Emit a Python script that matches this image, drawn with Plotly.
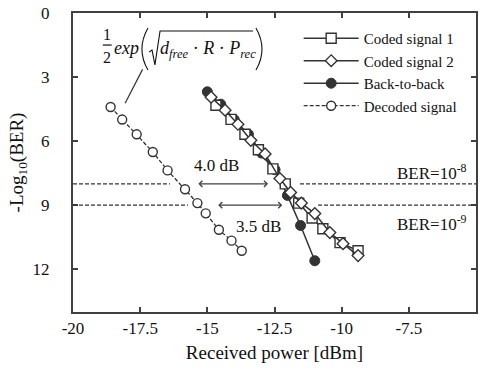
import plotly.graph_objects as go

# ---------------- data ----------------
dec_x = [-18.6, -18.17, -17.63, -17.03, -16.48, -15.83, -15.37, -15.06, -14.57, -14.1, -13.72]
dec_y = [4.4, 4.99, 5.68, 6.51, 7.37, 8.25, 8.9, 9.38, 10.15, 10.66, 11.13]

b2b_x = [-15.0, -14.5, -14.0, -13.47, -12.98, -12.48, -12.02, -11.53, -11.0]
b2b_y = [3.69, 4.27, 4.99, 5.68, 6.56, 7.34, 8.54, 9.95, 11.6]

c1_x = [-14.68, -14.12, -13.6, -13.1, -12.56, -12.1, -11.6, -11.1, -10.7, -10.06, -9.39]
c1_y = [4.32, 4.98, 5.68, 6.4, 7.3, 8.0, 8.9, 9.6, 10.1, 10.75, 11.13]

c2_x = [-14.86, -14.34, -13.86, -13.38, -12.85, -12.3, -11.9, -11.5, -11.0, -10.44, -9.95, -9.39]
c2_y = [3.94, 4.55, 5.21, 5.96, 6.6, 7.75, 8.4, 8.9, 9.39, 10.28, 10.8, 11.36]

x_ticks = [-20, -17.5, -15, -12.5, -10, -7.5, -5]
x_tick_text = ["-20", "-17.5", "-15", "-12.5", "-10", "-7.5", "-5"]
y_ticks = [0, 3, 6, 9, 12]

ber_levels = [8, 9]
ber_labels = ["BER=10<sup>-8</sup>", "BER=10<sup>-9</sup>"]
ber_gap_left = [-16.39, -15.72]
ber_gap_right = [-11.55, -10.88]

arrow_from = [-15.39, -14.65]
arrow_to = [-12.74, -12.21]
arrow_labels = ["4.0 dB", "3.5 dB"]

# ---------------- styling ----------------
INK = "#333333"
AX = "#404040"
FONT = "Liberation Serif"

fig = go.Figure()

fig.add_trace(go.Scatter(
    x=dec_x, y=dec_y, mode="lines+markers", name="Decoded signal", legendrank=4,
    line=dict(color=INK, width=1.3, dash="4px,2px"),
    marker=dict(symbol="circle", size=9, color="white", line=dict(color=INK, width=1.4)),
))
fig.add_trace(go.Scatter(
    x=b2b_x, y=b2b_y, mode="lines+markers", name="Back-to-back", legendrank=3,
    line=dict(color=INK, width=1.5),
    marker=dict(symbol="circle", size=10, color=INK, line=dict(color=INK, width=1)),
))
fig.add_trace(go.Scatter(
    x=c1_x, y=c1_y, mode="lines+markers", name="Coded signal 1", legendrank=1,
    line=dict(color=INK, width=1.5),
    marker=dict(symbol="square", size=10, color="white", line=dict(color=INK, width=1.4)),
))
fig.add_trace(go.Scatter(
    x=c2_x, y=c2_y, mode="lines+markers", name="Coded signal 2", legendrank=2,
    line=dict(color=INK, width=1.5),
    marker=dict(symbol="diamond", size=9, color="white", line=dict(color=INK, width=1.4)),
))

shapes = []
annotations = []

# BER threshold dashed lines and labels
for lvl, gl, gr in zip(ber_levels, ber_gap_left, ber_gap_right):
    shapes.append(dict(type="line", xref="x", yref="y", x0=-20, x1=gl, y0=lvl, y1=lvl,
                       line=dict(color=INK, width=1.2, dash="4px,2px")))
    shapes.append(dict(type="line", xref="x", yref="y", x0=gr, x1=-5, y0=lvl, y1=lvl,
                       line=dict(color=INK, width=1.2, dash="4px,2px")))
annotations.append(dict(x=-6.64, y=7.45, xref="x", yref="y", text=ber_labels[0], showarrow=False,
                        font=dict(family=FONT, size=17, color="#111")))
annotations.append(dict(x=-6.64, y=9.83, xref="x", yref="y", text=ber_labels[1], showarrow=False,
                        font=dict(family=FONT, size=17, color="#111")))

# double-headed arrows
for lvl, a0, a1 in zip(ber_levels, arrow_from, arrow_to):
    annotations.append(dict(x=a1, y=lvl, ax=a0, ay=lvl, xref="x", yref="y", axref="x", ayref="y",
                            text="", showarrow=True, arrowhead=4, startarrowhead=4,
                            arrowside="end+start", arrowsize=1, arrowwidth=1.2, arrowcolor=AX))
annotations.append(dict(x=-14.65, y=7.12, xref="x", yref="y", text=arrow_labels[0], showarrow=False,
                        font=dict(family=FONT, size=17, color="#111")))
annotations.append(dict(x=-13.1, y=10.0, xref="x", yref="y", text=arrow_labels[1], showarrow=False,
                        font=dict(family=FONT, size=17, color="#111")))

# formula
ff = dict(family=FONT, size=16, color="#111")
annotations += [
    dict(x=-18.73, y=1.0, xref="x", yref="y", text="1", showarrow=False, font=ff),
    dict(x=-18.73, y=2.06, xref="x", yref="y", text="2", showarrow=False, font=ff),
    dict(x=-18.0, y=1.62, xref="x", yref="y", text="<i>exp</i>", showarrow=False,
         font=dict(family=FONT, size=18, color="#111")),
    dict(x=-14.98, y=1.7, xref="x", yref="y",
         text="<i>d<sub>free</sub></i> · <i>R</i> · <i>P<sub>rec</sub></i>", showarrow=False,
         font=dict(family=FONT, size=18, color="#111")),
]
shapes += [
    dict(type="line", xref="x", yref="y", x0=-18.89, x1=-18.56, y0=1.5, y1=1.5,
         line=dict(color="#111", width=1.2)),
    dict(type="path", xref="x", yref="y", path="M -17.21,0.70 Q -17.66,1.69 -17.21,2.67",
         line=dict(color="#111", width=1.1)),
    dict(type="path", xref="x", yref="y", path="M -13.19,0.70 Q -12.74,1.69 -13.19,2.67",
         line=dict(color="#111", width=1.1)),
    dict(type="path", xref="x", yref="y",
         path="M -17.17,1.83 L -17.06,1.73 L -16.95,2.43 L -16.76,0.84 L -13.30,0.84",
         line=dict(color="#111", width=1.1)),
    dict(type="line", xref="x", yref="y", x0=-17.41, y0=2.64, x1=-18.06, y1=4.23,
         line=dict(color=INK, width=1.2)),
]

fig.update_layout(
    width=483, height=376,
    margin=dict(l=73, r=7, t=13, b=64, autoexpand=False),
    paper_bgcolor="white", plot_bgcolor="white",
    font=dict(family=FONT, size=17, color="#111"),
    showlegend=True,
    legend=dict(x=0.56, y=0.97, xanchor="left", yanchor="top", bgcolor="rgba(0,0,0,0)",
                font=dict(family=FONT, size=15, color="#111"), itemwidth=55,
                tracegroupgap=0),
    shapes=shapes, annotations=annotations,
)
fig.update_xaxes(range=[-20, -5], tickvals=x_ticks, ticktext=x_tick_text, automargin=False,
                 showgrid=False, zeroline=False, showline=True, linecolor=AX, linewidth=2,
                 mirror="ticks", ticks="inside", ticklen=5, tickcolor=AX, tickwidth=1.5,
                 tickfont=dict(family=FONT, size=17, color="#111"),
                 title=dict(text="Received power [dBm]", font=dict(family=FONT, size=19, color="#111"),
                            standoff=8))
fig.update_yaxes(range=[14, 0], tickvals=y_ticks, automargin=False,
                 showgrid=False, zeroline=False, showline=True, linecolor=AX, linewidth=2,
                 mirror="ticks", ticks="inside", ticklen=5, tickcolor=AX, tickwidth=1.5,
                 ticklabelstandoff=18,
                 tickfont=dict(family=FONT, size=17, color="#111"),
                 title=dict(text="-Log<sub>10</sub>(BER)", font=dict(family=FONT, size=19, color="#111"),
                            standoff=4))

fig.write_html("out.html", config={"displayModeBar": False},
               post_script="document.body.style.margin='0';")
